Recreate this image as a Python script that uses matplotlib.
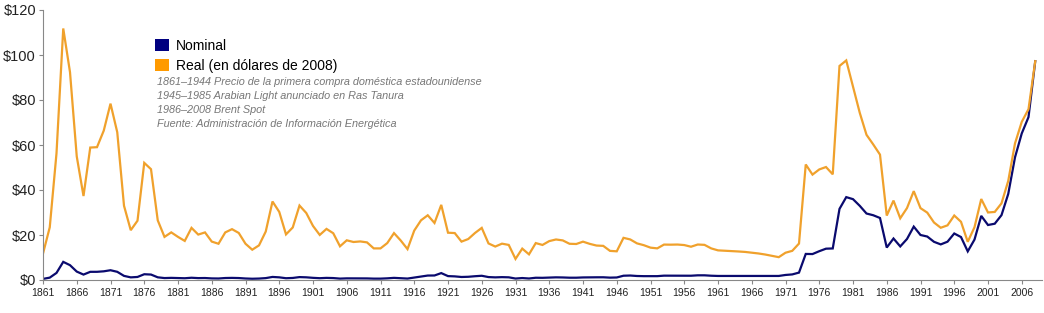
import matplotlib
matplotlib.use('Agg')
import matplotlib.pyplot as plt
from matplotlib.patches import Patch

plt.rcParams['font.family'] = ['Liberation Sans', 'DejaVu Sans']

# Crude oil prices, US$ per barrel
years = list(range(1861, 2009))

nominal = [0.49, 1.05, 3.15, 8.06, 6.59, 3.74, 2.41, 3.63, 3.64, 3.86,
           4.34, 3.64, 1.83, 1.17, 1.35, 2.56, 2.42, 1.19, 0.86, 0.95,
           0.86, 0.78, 1.00, 0.84, 0.88, 0.71, 0.67, 0.88, 0.94, 0.87,
           0.67, 0.56, 0.64, 0.84, 1.36, 1.18, 0.79, 0.91, 1.29, 1.19,
           0.96, 0.80, 0.94, 0.86, 0.62, 0.73, 0.72, 0.72, 0.70, 0.61,
           0.61, 0.74, 0.95, 0.81, 0.64, 1.10, 1.56, 1.98, 2.01, 3.07,
           1.73, 1.61, 1.34, 1.43, 1.68, 1.88, 1.30, 1.17, 1.27, 1.19,
           0.65, 0.87, 0.67, 1.00, 0.97, 1.09, 1.18, 1.13, 1.02, 1.02,
           1.14, 1.19, 1.20, 1.21, 1.05, 1.12, 1.90, 1.99, 1.78, 1.71,
           1.71, 1.71, 1.93, 1.93, 1.93, 1.93, 1.90, 2.08, 2.08, 1.90,
           1.80, 1.80, 1.80, 1.80, 1.80, 1.80, 1.80, 1.80, 1.80, 1.80,
           2.24, 2.48, 3.29, 11.58, 11.53, 12.80, 13.92, 14.02, 31.61, 36.83,
           35.93, 32.97, 29.55, 28.78, 27.56, 14.43, 18.44, 14.92, 18.23, 23.73,
           20.00, 19.32, 16.97, 15.82, 17.02, 20.67, 19.09, 12.72, 17.97, 28.50,
           24.44, 25.02, 28.83, 38.27, 54.52, 65.14, 72.39, 97.26]

real = [11.74, 23.41, 56.32, 111.80, 92.37, 54.93, 37.32, 58.87, 59.03, 66.38,
        78.38, 65.68, 33.01, 22.14, 26.35, 52.06, 49.25, 26.51, 19.16, 21.17,
        19.16, 17.37, 23.17, 20.19, 21.15, 17.07, 16.11, 21.15, 22.60, 20.91,
        16.11, 13.46, 15.39, 21.55, 34.89, 30.27, 20.27, 23.35, 33.09, 29.79,
        24.03, 20.03, 22.71, 20.78, 14.98, 17.64, 16.89, 17.14, 16.72, 14.05,
        14.05, 16.40, 20.84, 17.54, 13.73, 21.97, 26.53, 28.77, 25.35, 33.39,
        21.02, 20.86, 17.06, 18.21, 20.90, 23.16, 16.25, 14.87, 16.15, 15.59,
        9.37, 13.95, 11.40, 16.41, 15.58, 17.29, 18.01, 17.60, 16.10, 16.00,
        17.04, 16.06, 15.31, 15.17, 12.94, 12.75, 18.74, 18.02, 16.28, 15.48,
        14.38, 14.06, 15.74, 15.70, 15.76, 15.53, 14.79, 15.77, 15.62, 14.04,
        13.17, 13.01, 12.84, 12.68, 12.48, 12.12, 11.79, 11.32, 10.73, 10.15,
        12.12, 12.96, 16.20, 51.34, 46.84, 49.14, 50.21, 46.97, 95.13, 97.58,
        85.98, 74.32, 64.53, 60.24, 55.72, 28.64, 35.30, 27.43, 31.97, 39.50,
        31.94, 29.95, 25.55, 23.22, 24.29, 28.66, 25.87, 16.97, 23.46, 35.99,
        30.01, 30.25, 34.07, 44.06, 60.71, 70.27, 75.93, 97.26]

notes = ['1861\u20131944 Precio de la primera compra doméstica estadounidense',
         '1945\u20131985 Arabian Light anunciado en Ras Tanura',
         '1986\u20132008 Brent Spot',
         'Fuente: Administración de Información Energética']

navy = '#0a0a6e'
orange = '#f0a12c'

fig = plt.figure(figsize=(10.44, 3.13), dpi=100)
ax = fig.add_axes([43 / 1044, 1 - 280 / 313, 999 / 1044, 270 / 313])

# nominal first so the real line sits on top where they meet
ax.plot(years, nominal, color=navy, lw=1.6, solid_joinstyle='miter')
ax.plot(years, real, color=orange, lw=1.6, solid_joinstyle='miter')

ax.set_xlim(1861, 2009)
ax.set_ylim(0, 120)
ax.set_yticks(range(0, 121, 20))
ax.set_yticklabels(['$%d' % v for v in range(0, 121, 20)], fontsize=10.5, color='#222222')
ax.set_xticks(range(1861, 2009, 5))
ax.tick_params(axis='x', labelsize=7.5, length=3, color='#888888', labelcolor='#222222', pad=3)
ax.tick_params(axis='y', length=3, color='#888888', pad=2)

for s in ['top', 'right']:
    ax.spines[s].set_visible(False)
for s in ['left', 'bottom']:
    ax.spines[s].set_color('#888888')
    ax.spines[s].set_linewidth(0.8)

handles = [Patch(facecolor='#000080', edgecolor='none', label='Nominal'),
           Patch(facecolor='#ff9a00', edgecolor='none', label='Real (en dólares de 2008)')]
fig.legend(handles=handles, loc='upper left', bbox_to_anchor=(155 / 1044, 1 - 39 / 313),
           frameon=False, fontsize=10, handlelength=1.0, handleheight=1.0,
           handletextpad=0.5, labelspacing=0.4, borderpad=0, borderaxespad=0)

for i, t in enumerate(notes):
    fig.text(157 / 1044, 1 - (82 + i * 14) / 313, t, fontsize=7.8, style='italic',
             color='#777777', va='center', ha='left')

fig.savefig('out.png', dpi=100)
